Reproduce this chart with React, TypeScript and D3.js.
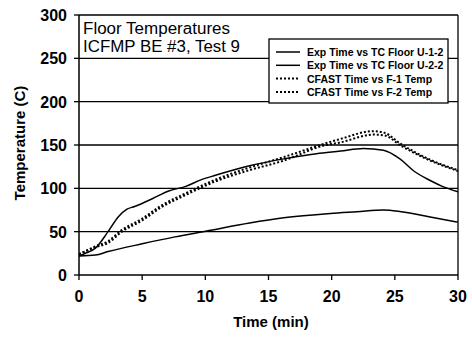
import React from "react";
import * as d3 from "d3";

const expU12Time = [0, 0.5, 1.3, 2.3, 3.1, 3.8, 4.4, 5.8, 7.1, 8.4, 9.7, 10.8, 13.5, 16.2, 18.8, 20.7, 22.5, 24.1, 25.4, 26.5, 27.8, 28.8, 30];
const expU12Temp = [22, 25, 31, 50, 67, 76, 79, 88, 97, 102, 110, 115, 126, 134, 140, 143, 146, 144, 134, 120, 109, 102, 96];

const expU22Time = [0, 1.3, 2.3, 5, 7.6, 10.2, 13.5, 16.2, 19.9, 22, 24.1, 25.5, 27.8, 30];
const expU22Temp = [22, 23, 27, 36, 44, 51, 60, 66, 71, 73, 75, 73, 67, 61];

const cfastF1Time = [0, 1.3, 2.3, 3.4, 5, 6.5, 8.4, 10.8, 13.5, 16.2, 19.3, 20.7, 23.3, 24.2, 25.4, 27.8, 30];
const cfastF1Temp = [24, 33, 39, 52, 65, 80, 94, 110, 124, 136, 151, 157, 166, 164, 152, 133, 121];

const cfastF2Time = [0, 1.3, 2.3, 3.4, 5, 6.5, 8.4, 10.8, 13.5, 16.2, 19.3, 20.7, 23.3, 24.2, 25.4, 27.8, 30];
const cfastF2Temp = [24, 32, 37, 50, 63, 78, 92, 108, 121, 132, 149, 153, 162, 161, 150, 132, 120];

const xTicks = [0, 5, 10, 15, 20, 25, 30];
const yTicks = [0, 50, 100, 150, 200, 250, 300];
const legendLabels = [
  "Exp Time vs TC Floor U-1-2",
  "Exp Time vs TC Floor U-2-2",
  "CFAST Time vs F-1 Temp",
  "CFAST Time vs F-2 Temp",
];

export default function App() {
  const W = 472, H = 337;
  const x = d3.scaleLinear().domain([0, 30]).range([79, 458]);
  const y = d3.scaleLinear().domain([0, 300]).range([275, 15]);
  const line = d3.line<[number, number]>().x(d => x(d[0])).y(d => y(d[1])).curve(d3.curveMonotoneX);
  const zip = (a: number[], b: number[]) => a.map((v, i) => [v, b[i]] as [number, number]);
  const series = [
    { d: zip(expU12Time, expU12Temp), dash: undefined as string | undefined, w: 1.5 },
    { d: zip(expU22Time, expU22Temp), dash: undefined, w: 1.5 },
    { d: zip(cfastF1Time, cfastF1Temp), dash: "2,2", w: 2 },
    { d: zip(cfastF2Time, cfastF2Temp), dash: "2,2", w: 2 },
  ];
  const font = "Liberation Sans, Arial, sans-serif";
  return (
    <svg width={W} height={H} style={{ position: "absolute", left: 0, top: 0, background: "#fff" }} fontFamily={font}>
      <rect x={0} y={0} width={W} height={H} fill="#fff" />
      {yTicks.filter(t => t > 0).map(t => (
        <line key={t} x1={x(0)} x2={x(30)} y1={y(t)} y2={y(t)} stroke="#000" strokeWidth={1.3} />
      ))}
      <line x1={x(30)} x2={x(30)} y1={y(0)} y2={y(300)} stroke="#000" strokeWidth={1.3} />
      <line x1={x(0)} x2={x(0)} y1={y(0)} y2={y(300)} stroke="#000" strokeWidth={1.5} />
      <line x1={x(0)} x2={x(30)} y1={y(0)} y2={y(0)} stroke="#000" strokeWidth={1.5} />
      {yTicks.map(t => (
        <g key={t}>
          <line x1={x(0) - 5} x2={x(0)} y1={y(t)} y2={y(t)} stroke="#000" strokeWidth={1.3} />
          <text x={67} y={y(t) + 6} textAnchor="end" fontSize={16} fontWeight="bold">{t}</text>
        </g>
      ))}
      {xTicks.map(t => (
        <g key={t}>
          <line x1={x(t)} x2={x(t)} y1={y(0)} y2={y(0) + 5} stroke="#000" strokeWidth={1.3} />
          <text x={x(t)} y={302} textAnchor="middle" fontSize={16} fontWeight="bold">{t}</text>
        </g>
      ))}
      <text x={271} y={327} textAnchor="middle" fontSize={15} fontWeight="bold">Time (min)</text>
      <text transform={`translate(25,${143}) rotate(-90)`} textAnchor="middle" fontSize={15} fontWeight="bold">Temperature (C)</text>
      {series.map((s, i) => (
        <path key={i} d={line(s.d) || ""} fill="none" stroke="#000" strokeWidth={s.w} strokeDasharray={s.dash} />
      ))}
      <text x={83} y={34} fontSize={16} textLength={147} lengthAdjust="spacingAndGlyphs">Floor Temperatures</text>
      <text x={83} y={52} fontSize={16} textLength={157} lengthAdjust="spacingAndGlyphs">ICFMP BE #3, Test 9</text>
      <rect x={269} y={39} width={179} height={64} fill="#fff" stroke="#000" strokeWidth={1.3} />
      {legendLabels.map((l, i) => {
        const ly = 52 + i * 13.3;
        return (
          <g key={l}>
            <line x1={276} x2={300} y1={ly} y2={ly} stroke="#000" strokeWidth={series[i].w} strokeDasharray={series[i].dash} />
            <text x={307} y={ly + 4} fontSize={10.5} fontWeight="bold">{l}</text>
          </g>
        );
      })}
    </svg>
  );
}
